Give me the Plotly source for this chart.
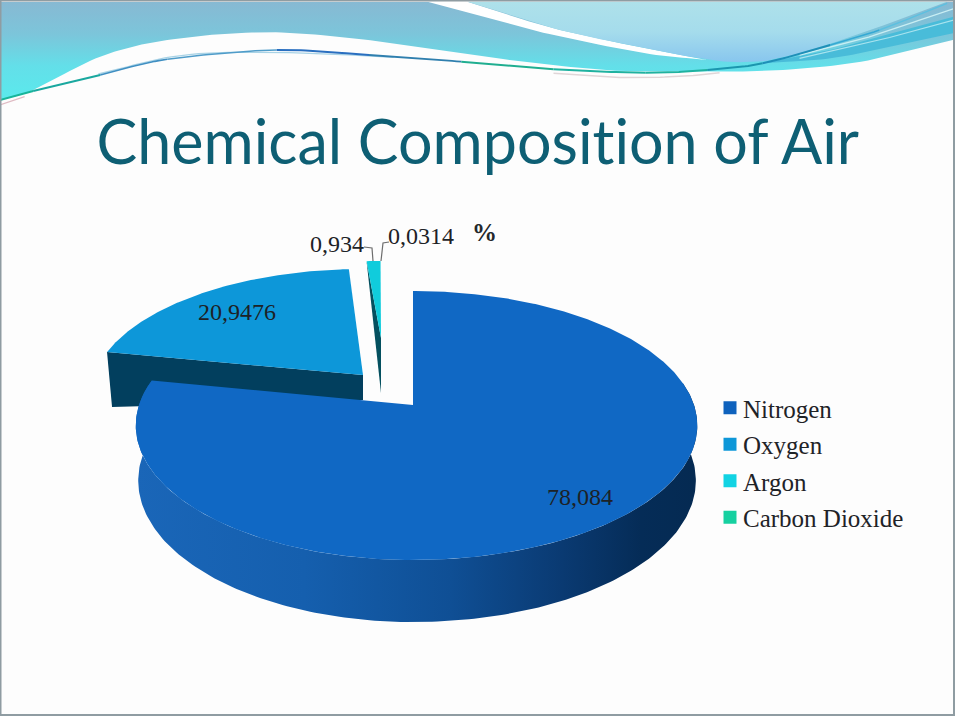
import numpy as np
import plotly.graph_objects as go

# ---------- chart data ----------
categories = ["Nitrogen", "Oxygen", "Argon", "Carbon Dioxide"]
values = [78.084, 20.9476, 0.934, 0.0314]
top_colors = ["#1068c4", "#0d97d9", "#10ccdc", "#18d2a2"]
legend_colors = ["#0f62bd", "#0d97d8", "#12d3e3", "#16d0a0"]
title_text = "Chemical Composition of Air"
unit_text = "%"


def label(v):
    return str(v).replace(".", ",")


# ---------- pie projection (perspective circle on hidden 960x720 axes) ----------
K = 0.1524
SY = 131.4
RX_L, RX_R = 274.0, 281.0


def project(theta_deg, apex, sx=1.0, sy=1.0):
    t = np.radians(np.asarray(theta_deg, dtype=float))
    u, v = np.sin(t), np.cos(t)
    w = 1 + K * v
    r = np.where(u < 0, RX_L, RX_R)
    return apex[0] + sx * r * u / w, apex[1] - sy * SY * v / w


def wedge(a0, a1, apex, sx=1.0, sy=1.0):
    th = np.linspace(a0, a1, max(int(abs(a1 - a0)) * 2, 6))
    x, y = project(th, apex, sx, sy)
    return np.r_[apex[0], x, apex[0]], np.r_[apex[1], y, apex[1]]


total = sum(values)
angles = np.cumsum([0] + [v / total * 360 for v in values])

fig = go.Figure()


def poly(x, y, color=None, grad=None):
    kw = dict(fillgradient=grad) if grad else dict(fillcolor=color)
    fig.add_trace(go.Scatter(x=x, y=y, mode="lines", fill="toself", line=dict(width=0),
                             showlegend=False, hoverinfo="skip", **kw))


def smooth(pts, n=14):
    p = np.array(pts, dtype=float)
    p = np.vstack([2 * p[0] - p[1], p, 2 * p[-1] - p[-2]])
    out = []
    for i in range(1, len(p) - 2):
        for t in np.linspace(0, 1, n, endpoint=False):
            a = 0.5 * ((2 * p[i]) + (-p[i - 1] + p[i + 1]) * t
                       + (2 * p[i - 1] - 5 * p[i] + 4 * p[i + 1] - p[i + 2]) * t ** 2
                       + (-p[i - 1] + 3 * p[i] - 3 * p[i + 1] + p[i + 2]) * t ** 3)
            out.append(a)
    out.append(p[-2])
    return np.array(out)


def z(pts):
    return [(a / 1.626, b / 3.0) for a, b in pts]


def vgrad(stops, y0, y1):
    return dict(type="vertical", start=y0, stop=y1,
                colorscale=[[i / (len(stops) - 1), c] for i, c in enumerate(stops)])


def stroke(s, col, wd):
    fig.add_trace(go.Scatter(x=s[:, 0], y=s[:, 1], mode="lines", line=dict(color=col, width=wd),
                             showlegend=False, hoverinfo="skip"))


# ---------- header decoration ----------
lower_edge = smooth(z([(1561, 115), (1400, 185), (1240, 213), (1100, 212), (1000, 212), (850, 185),
                       (700, 145), (550, 110), (420, 97), (272, 120), (163, 170), (54, 270), (0, 300)]))
band = np.vstack([[(0, 2), (960, 2)], lower_edge])
poly(band[:, 0], band[:, 1], grad=vgrad(["#87b9d3", "#7cc5da", "#63dfe9", "#5be9ec"], 2, 98))

white_a = smooth(z([(695, 5), (800, 58), (900, 105), (1050, 160), (1150, 180)]))
white_b = smooth(z([(1150, 180), (1050, 145), (900, 85), (760, 5)]))
w = np.vstack([white_a, white_b])
poly(w[:, 0], w[:, 1], color="#ffffff")

light_l = smooth(z([(760, 5), (900, 85), (1050, 145), (1170, 183), (1240, 185)]))
light_r = smooth(z([(1240, 185), (1300, 160), (1400, 100), (1540, 5)]))
w = np.vstack([light_l, light_r])
poly(w[:, 0], w[:, 1], grad=vgrad(["#aee1ea", "#a5dcec", "#88c6ee"], 2, 62))

band_a = smooth(z([(1240, 190), (1350, 150), (1450, 100), (1561, 45)]))
band_b = smooth(z([(1561, 95), (1450, 140), (1350, 175), (1240, 190)]))
w = np.vstack([band_a, band_b])
poly(w[:, 0], w[:, 1], color="#49bcd9")

for pts, col, wd in [
    ([(1300, 165), (1400, 118), (1480, 70), (1561, 20)], "#c8eef3", 1.3),
    ([(1300, 175), (1420, 125), (1500, 85), (1561, 55)], "#a8e3ee", 1.2),
    ([(160, 222), (300, 165), (470, 158), (640, 172)], "#a9d3e6", 1.3),
    ([(900, 220), (1000, 232), (1100, 230), (1170, 218)], "#e0d6d8", 1.5),
    ([(0, 315), (40, 290)], "#e0bcc4", 1.2),
]:
    stroke(smooth(z(pts)), col, wd)

wave = smooth(z([(0, 300), (54, 273), (163, 225), (272, 178), (450, 150), (600, 165), (750, 185), (900, 208),
                 (1050, 218), (1150, 210), (1240, 190), (1350, 135), (1430, 90), (1540, 10)]), n=20)
wave_colors = [("#18b59a", 2.0), ("#1aa89f", 2.0), ("#3f8fc2", 1.6), ("#4f9cc9", 1.5), ("#2a6fc0", 2.0),
               ("#2f7fae", 1.8), ("#20ae90", 2.0), ("#20b2a0", 2.0), ("#20b2a0", 2.0), ("#1b96ae", 2.0),
               ("#1f8fb8", 2.0), ("#36a9d4", 1.6), ("#5cc0e0", 1.4)]
for i, (col, wd) in enumerate(wave_colors):
    stroke(wave[i * 20:(i + 1) * 20 + 1], col, wd)

# ---------- oxygen (exploded) ----------
ox_apex = (363, 375)
ox_x, ox_y = project([angles[1], angles[2]], ox_apex, 0.98, 0.93)
poly([ox_x[0], ox_apex[0], ox_apex[0], ox_x[0] + 5], [ox_y[0], ox_apex[1], ox_apex[1] + 25, ox_y[0] + 55],
     color="#023f5e")
x, y = wedge(angles[1], angles[2], ox_apex, 0.98, 0.93)
poly(x, y, color=top_colors[1])

# ---------- argon + carbon dioxide ----------
ar_apex = (381, 338)
ar_x, ar_y = project([angles[2]], ar_apex, 1.0, 0.675)
poly([ar_x[0], ar_apex[0], ar_apex[0]], [ar_y[0], ar_apex[1], ar_apex[1] + 55], color="#04505f")
x, y = wedge(angles[2], angles[3], ar_apex, 1.0, 0.675)
poly(x, y, color=top_colors[2])
x, y = wedge(angles[3], angles[4], ar_apex, 1.0, 0.675)
poly(x, y, color=top_colors[3])

# ---------- nitrogen ----------
n_apex = (413, 405)
th_top = np.linspace(80, angles[1], 200)
xt, yt = project(th_top, n_apex)
th_bot = np.linspace(272, 88, 200)
xb, yb = project(th_bot, n_apex)
xb = 417 + (xb - 416.5) * 0.993
yb = 480 + (yb - 425) * 1.052
poly(np.r_[xt, xb], np.r_[yt, yb], grad=dict(
    type="horizontal", start=136, stop=697,
    colorscale=[[0, "#1a66b8"], [0.3, "#155fae"], [0.56, "#0f4f95"], [0.76, "#0a3a72"],
                [0.9, "#052c57"], [1, "#052a52"]]))
x, y = wedge(angles[0], angles[1], n_apex)
poly(x, y, color=top_colors[0])

# ---------- legend ----------
for name, col in zip(categories, legend_colors):
    fig.add_trace(go.Scatter(x=[None], y=[None], mode="markers", name=name, legendgroup=name,
                             marker=dict(symbol="square", size=13, color=col)))

# ---------- text ----------
serif = "Liberation Serif"
label_pos = [(580, 497), (237, 312), (337, 244), (421, 236)]
annots = [dict(x=px, y=py, text=label(v), showarrow=False, font=dict(family=serif, size=24, color="#1d2226"))
          for v, (px, py) in zip(values, label_pos)]
annots.append(dict(x=484, y=232, text="<b>" + unit_text + "</b>", showarrow=False,
                   font=dict(family=serif, size=25, color="#24282c")))
annots.append(dict(x=478, y=140, text=title_text, showarrow=False,
                   font=dict(family="Lato", size=61, color="#0e5f74")))

leaders = [
    [(364, 247), (372, 248), (373, 261)],
    [(389, 242), (383, 243), (381, 261)],
]
shapes = []
for pts in leaders:
    d = "M " + " L ".join(f"{a},{b}" for a, b in pts)
    shapes.append(dict(type="path", path=d, xref="x", yref="y", line=dict(color="#6d6d6d", width=1.2)))
shapes.append(dict(type="rect", xref="x", yref="y", x0=0.5, x1=954, y0=0.5, y1=715,
                   line=dict(color="#8f9ca2", width=2)))
# white margin outside the slide frame
shapes.append(dict(type="rect", xref="x", yref="y", x0=955, x1=960, y0=0, y1=720,
                   fillcolor="#ffffff", line=dict(width=0)))
shapes.append(dict(type="rect", xref="x", yref="y", x0=0, x1=960, y0=716, y1=720,
                   fillcolor="#ffffff", line=dict(width=0)))

fig.update_layout(
    width=960, height=720, margin=dict(l=0, r=0, t=0, b=0),
    paper_bgcolor="#ffffff", plot_bgcolor="#fdfdfd",
    xaxis=dict(range=[0, 960], visible=False, fixedrange=True),
    yaxis=dict(range=[720, 0], visible=False, fixedrange=True),
    annotations=annots, shapes=shapes,
    legend=dict(x=703 / 960, y=1 - 385 / 720, xanchor="left", yanchor="top", tracegroupgap=1,
                bgcolor="rgba(0,0,0,0)", font=dict(family=serif, size=25, color="#1f2327"),
                itemclick=False, itemdoubleclick=False),
    showlegend=True,
)
post = """
document.body.style.margin='0';
var st=document.createElement('style');
st.textContent='svg text{font-variant-ligatures:none !important;font-feature-settings:"liga" 0,"clig" 0 !important;}';
document.head.appendChild(st);
document.querySelectorAll('.legend .legendpoints path').forEach(function(p){
  p.setAttribute('transform','translate(27,0)');
});
"""
fig.write_html("out.html", post_script=post, config=dict(displayModeBar=False))
